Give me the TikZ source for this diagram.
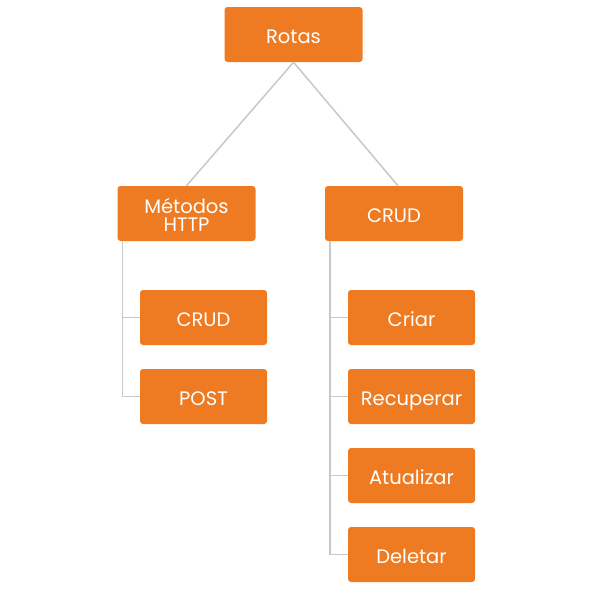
\documentclass[tikz,border=0pt]{standalone}
\usepackage{fontspec}
\setmainfont{Poppins}
\definecolor{rotaorange}{HTML}{EE7B22}
\definecolor{ramogray}{HTML}{C8C8C8}

\begin{document}
\begin{tikzpicture}[x=1pt, y=-1pt,
	every node/.style={fill=rotaorange, text=white, rounded corners=3pt, align=center,
		font=\fontsize{19.5}{17.5}\selectfont, inner sep=0pt, text height=17pt, text depth=0pt},
	topbox/.style={minimum width=138pt, minimum height=55pt},
	leafbox/.style={minimum width=127pt, minimum height=55pt},
	ramo/.style={draw=ramogray, line width=1.5pt},]

\useasboundingbox (0,0) rectangle (615,590);

% Create the nodes
\node[topbox] (rotas) at (293.5,34.5) {Rotas};
\node[topbox] (metodos) at (186.5,213.5) {};
\node[fill=none, text height={}, text depth={}, font=\fontsize{19.5}{18.5}\selectfont]
	(metodostxt) at ([yshift=-1.5pt]metodos.center) {Métodos\\HTTP};
\node[topbox] (crud) at (394,213.5) {CRUD};

\node[leafbox] (crudhttp) at (203.5,317.5) {CRUD};
\node[leafbox] (post) at (203.5,396.5) {POST};

\node[leafbox] (criar) at (411.5,317.5) {Criar};
\node[leafbox] (recuperar) at (411.5,396.5) {Recuperar};
\node[leafbox] (atualizar) at (411.5,475.5) {Atualizar};
\node[leafbox] (deletar) at (411.5,554.5) {Deletar};

% Connect them
\coordinate (ltronco) at ([xshift=5pt]metodos.south west);
\coordinate (rtronco) at ([xshift=5pt]crud.south west);

\draw[ramo] (rotas.south) -- (metodos.north);
\draw[ramo] (rotas.south) -- ([xshift=4pt]crud.north);
\draw[ramo] (ltronco) |- (crudhttp.west);
\draw[ramo] (ltronco) |- (post.west);
\foreach \filho in {criar, recuperar, atualizar, deletar}
	\draw[ramo] (rtronco) |- (\filho.west);

\end{tikzpicture}
\end{document}
